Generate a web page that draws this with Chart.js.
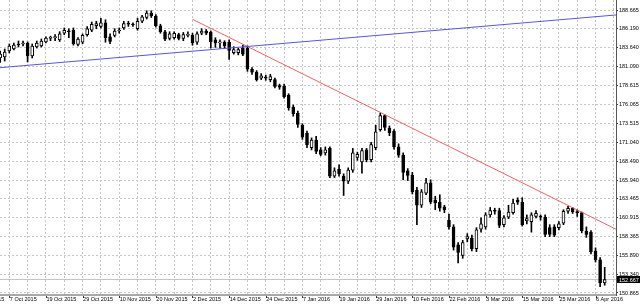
<!DOCTYPE html>
<html>
<head>
<meta charset="utf-8">
<script src="https://cdn.jsdelivr.net/npm/chart.js@4.4.0/dist/chart.umd.min.js"></script>
<style>
html, body { margin: 0; padding: 0; background: #fff; }
canvas { display: block; }
</style>
</head>
<body>
<canvas id="velas" width="640" height="305"></canvas>
<script>
// dias de cotizacion (una vela por dia)
var dias = [
'5 Oct 2015','6 Oct 2015','7 Oct 2015','8 Oct 2015','9 Oct 2015','12 Oct 2015','13 Oct 2015','14 Oct 2015','15 Oct 2015','16 Oct 2015',
'19 Oct 2015','20 Oct 2015','21 Oct 2015','22 Oct 2015','23 Oct 2015','26 Oct 2015','27 Oct 2015','28 Oct 2015','29 Oct 2015','30 Oct 2015',
'2 Nov 2015','3 Nov 2015','4 Nov 2015','5 Nov 2015','6 Nov 2015','9 Nov 2015','10 Nov 2015','11 Nov 2015','12 Nov 2015','13 Nov 2015',
'16 Nov 2015','17 Nov 2015','18 Nov 2015','19 Nov 2015','20 Nov 2015','23 Nov 2015','24 Nov 2015','25 Nov 2015','26 Nov 2015','27 Nov 2015',
'30 Nov 2015','1 Dec 2015','2 Dec 2015','3 Dec 2015','4 Dec 2015','7 Dec 2015','8 Dec 2015','9 Dec 2015','10 Dec 2015','11 Dec 2015',
'14 Dec 2015','15 Dec 2015','16 Dec 2015','17 Dec 2015','18 Dec 2015','21 Dec 2015','22 Dec 2015','23 Dec 2015','24 Dec 2015','28 Dec 2015',
'29 Dec 2015','30 Dec 2015','31 Dec 2015','4 Jan 2016','5 Jan 2016','6 Jan 2016','7 Jan 2016','8 Jan 2016','11 Jan 2016','12 Jan 2016',
'13 Jan 2016','14 Jan 2016','15 Jan 2016','18 Jan 2016','19 Jan 2016','20 Jan 2016','21 Jan 2016','22 Jan 2016','25 Jan 2016','26 Jan 2016',
'27 Jan 2016','28 Jan 2016','29 Jan 2016','1 Feb 2016','2 Feb 2016','3 Feb 2016','4 Feb 2016','5 Feb 2016','8 Feb 2016','9 Feb 2016',
'10 Feb 2016','11 Feb 2016','12 Feb 2016','15 Feb 2016','16 Feb 2016','17 Feb 2016','18 Feb 2016','19 Feb 2016','22 Feb 2016','23 Feb 2016',
'24 Feb 2016','25 Feb 2016','26 Feb 2016','29 Feb 2016','1 Mar 2016','2 Mar 2016','3 Mar 2016','4 Mar 2016','7 Mar 2016','8 Mar 2016',
'9 Mar 2016','10 Mar 2016','11 Mar 2016','14 Mar 2016','15 Mar 2016','16 Mar 2016','17 Mar 2016','18 Mar 2016','21 Mar 2016','22 Mar 2016',
'23 Mar 2016','24 Mar 2016','25 Mar 2016','28 Mar 2016','29 Mar 2016','30 Mar 2016','31 Mar 2016','1 Apr 2016','4 Apr 2016','5 Apr 2016',
'6 Apr 2016','7 Apr 2016','8 Apr 2016'
];

var apertura = [
182.30,182.42,183.22,183.49,184.16,184.16,184.29,182.55,183.76,183.89,
184.43,184.90,185.00,184.70,185.60,185.90,186.00,184.10,184.40,185.40,
186.00,186.60,186.50,187.00,185.10,185.30,185.90,186.30,186.90,186.80,
186.20,187.20,187.70,188.30,187.90,186.60,185.80,184.90,185.00,185.40,
184.90,185.30,185.30,184.40,185.60,185.90,185.76,184.70,184.30,184.40,
184.40,183.00,183.00,183.60,183.60,180.80,180.40,179.60,179.70,179.40,
179.40,178.60,178.50,177.30,175.70,174.90,173.30,172.20,170.30,171.30,
170.00,169.60,170.20,166.50,167.40,166.50,165.80,167.30,169.00,168.40,
170.00,168.70,170.30,172.70,174.60,172.90,172.50,170.40,169.30,167.20,
166.60,164.60,162.60,164.20,165.60,163.30,163.00,162.40,160.60,159.70,
157.30,155.90,158.10,158.20,156.80,159.40,159.70,161.30,161.90,161.90,
160.00,161.00,161.60,163.30,163.00,160.50,160.40,161.10,161.10,161.00,
159.60,159.70,159.60,160.20,161.80,162.20,161.70,161.60,159.10,159.00,
156.50,155.30,152.20
];
var maximo = [
183.20,183.49,184.16,184.29,184.56,184.56,184.43,184.16,184.56,184.83,
185.10,185.20,185.40,185.80,186.30,186.20,186.30,185.00,185.50,186.50,
187.10,187.20,187.60,187.40,185.50,186.20,186.30,187.20,187.20,187.00,
187.60,188.00,188.60,188.60,188.10,186.80,186.00,185.80,185.80,185.60,
185.70,185.80,185.60,185.80,186.20,186.10,185.90,185.00,184.70,184.60,
184.70,183.80,183.60,184.00,183.90,181.00,180.60,180.20,180.00,180.10,
179.60,178.80,178.80,177.50,176.00,175.20,173.50,172.50,171.60,171.80,
170.30,170.40,170.40,167.60,168.00,166.80,167.60,170.20,169.70,170.20,
170.20,171.00,173.30,174.90,174.70,173.20,172.70,170.80,169.60,167.50,
167.00,165.00,164.70,166.20,166.00,163.80,164.00,162.60,161.40,160.00,
157.60,157.90,158.80,158.60,159.60,160.90,161.60,162.30,162.20,162.20,
161.20,162.60,163.40,163.60,163.60,161.30,161.60,161.90,161.30,161.30,
160.00,160.00,160.40,162.00,162.50,162.30,162.00,161.70,159.70,159.20,
156.90,155.60,154.30
];
var minimo = [
181.70,181.88,182.96,183.36,183.76,183.89,181.75,182.29,183.62,183.76,
184.30,184.60,184.60,184.50,185.40,185.00,184.00,183.90,184.20,185.20,
185.80,186.20,186.30,184.40,184.20,185.10,185.60,186.10,186.50,186.50,
186.00,187.00,187.50,187.70,186.40,185.60,184.60,184.70,184.80,184.70,
184.60,185.10,184.00,184.10,185.40,185.40,183.62,183.70,183.60,183.60,
182.10,182.80,182.70,182.60,180.50,180.10,179.20,179.40,179.30,179.10,
178.30,178.10,176.90,175.30,174.50,173.00,171.40,170.30,170.00,169.50,
169.20,169.30,166.30,166.30,166.50,163.90,165.50,167.00,168.60,166.90,
168.40,168.40,170.00,172.50,172.60,171.90,170.10,169.00,166.00,165.90,
164.10,160.00,162.30,164.00,162.80,162.00,161.80,161.60,159.40,156.60,
154.90,155.50,157.70,156.50,156.40,159.00,159.40,161.00,161.40,159.60,
159.70,160.80,161.40,162.70,159.80,160.10,159.00,160.90,160.60,158.40,
158.40,158.40,159.30,160.00,161.50,161.50,161.10,158.90,158.30,156.10,
155.00,151.70,151.90
];
var cierre = [
182.80,183.09,183.89,184.02,184.02,184.29,182.55,183.89,184.29,184.56,
184.96,185.00,185.10,185.50,186.00,185.80,184.20,184.80,185.30,186.20,
186.80,186.90,187.00,185.00,184.50,185.90,186.00,186.90,186.80,186.70,
187.20,187.80,188.30,187.90,186.60,185.80,184.80,185.50,185.60,184.90,
185.40,185.40,184.30,185.50,185.90,185.60,184.43,184.30,184.40,183.90,
183.30,183.40,183.40,182.80,180.80,180.40,179.40,179.90,179.60,179.80,
178.50,178.40,177.10,175.60,174.80,173.40,171.70,170.70,171.30,169.80,
169.40,170.00,166.50,167.20,166.80,165.80,167.30,169.60,169.40,169.90,
168.70,170.70,172.40,174.60,173.00,172.30,170.40,169.30,167.00,166.60,
164.40,162.60,164.40,165.60,163.00,162.90,162.20,162.00,159.70,157.00,
156.30,157.60,158.40,156.80,159.30,160.10,161.30,161.90,161.80,159.90,
160.90,161.70,162.90,163.00,160.00,160.80,161.30,161.50,161.00,158.70,
158.70,158.60,160.10,161.80,162.20,161.70,161.60,159.20,158.70,156.40,
155.30,152.20,152.667
];

// etiquetas del eje de precios
var ticksPrecio = [188.665,186.190,183.640,181.090,178.615,176.065,173.515,171.040,168.490,165.940,163.465,160.915,158.365,155.890,153.340,150.865];
// etiquetas de fecha, cada 8 velas, la primera cae en la vela -6
var etiquetasFecha = ['25 Sep 2015','7 Oct 2015','19 Oct 2015','29 Oct 2015','10 Nov 2015','20 Nov 2015','2 Dec 2015','14 Dec 2015','24 Dec 2015','7 Jan 2016','19 Jan 2016','29 Jan 2016','10 Feb 2016','22 Feb 2016','3 Mar 2016','15 Mar 2016','25 Mar 2016','6 Apr 2016'];
var primeraEtiqueta = -6;

// lineas de tendencia
var lineaAzul = [{x: -0.03, y: 180.99}, {x: 134.47, y: 188.04}];
var lineaRoja = [{x: 42, y: 187.46}, {x: 134.47, y: 159.39}];

var xMin = -0.03, xMax = 134.47;
var yMin = 150.73, yMax = 190.04;

var ultimo = cierre[cierre.length - 1];

var mechas = [], sube = [], baja = [];
for (var k = 0; k < dias.length; k++) {
    mechas.push({x: k, y: [minimo[k], maximo[k]]});
    if (cierre[k] >= apertura[k]) {
        sube.push({x: k, y: [apertura[k], cierre[k]]});
    } else {
        baja.push({x: k, y: [apertura[k], cierre[k]]});
    }
}

var fuente = {size: 5.5, family: '"Liberation Sans", Arial, sans-serif'};

var marco = {
    id: 'marco',
    afterDraw: function(chart) {
        var c = chart.ctx;
        var area = chart.chartArea;
        var ex = chart.scales.x;
        var ey = chart.scales.y;
        c.save();
        c.fillStyle = '#a8a8a8';
        c.fillRect(0, area.bottom, area.right, 2);
        c.fillStyle = '#555';
        c.fillRect(area.right, 0, 1, area.bottom + 2);
        c.font = fuente.size + 'px ' + fuente.family;
        c.textAlign = 'left';
        c.textBaseline = 'top';
        for (var n = 0; n < etiquetasFecha.length; n++) {
            var px = ex.getPixelForValue(primeraEtiqueta + n * 8);
            c.fillStyle = '#333';
            c.fillRect(Math.round(px), area.bottom + 2, 1, 2);
            c.fillStyle = '#000';
            c.fillText(etiquetasFecha[n], px + 0.5, area.bottom + 3);
        }
        var py = ey.getPixelForValue(ultimo);
        c.fillStyle = '#000';
        c.fillRect(area.right + 1, py - 3.5, 24, 7);
        c.fillStyle = '#fff';
        c.textBaseline = 'middle';
        c.fillText(ultimo.toFixed(3), area.right + 3, py + 0.5);
        c.restore();
    }
};

var ctx = document.getElementById('velas').getContext('2d');
var grafica = new Chart(ctx, {
    type: 'bar',
    data: {
        datasets: [
            {
                type: 'line',
                data: [{x: xMin, y: ultimo}, {x: xMax, y: ultimo}],
                borderColor: '#c4c4c4',
                borderWidth: 1,
                pointRadius: 0,
                order: 4
            },
            {
                data: mechas,
                backgroundColor: '#000',
                borderWidth: 0,
                barThickness: 1,
                grouped: false,
                order: 3
            },
            {
                data: sube,
                backgroundColor: '#fff',
                borderColor: '#000',
                borderWidth: 1,
                borderSkipped: false,
                barThickness: 3,
                minBarLength: 1,
                grouped: false,
                order: 2
            },
            {
                data: baja,
                backgroundColor: '#000',
                borderColor: '#000',
                borderWidth: 1,
                borderSkipped: false,
                barThickness: 3,
                minBarLength: 1,
                grouped: false,
                order: 2
            },
            {
                type: 'line',
                data: lineaAzul,
                borderColor: '#5656dc',
                borderWidth: 1,
                pointRadius: 0,
                order: 1
            },
            {
                type: 'line',
                data: lineaRoja,
                borderColor: '#f06262',
                borderWidth: 1,
                pointRadius: 0,
                order: 1
            }
        ]
    },
    options: {
        responsive: false,
        animation: false,
        devicePixelRatio: 1,
        layout: {padding: 0},
        plugins: {
            legend: {display: false},
            tooltip: {enabled: false}
        },
        scales: {
            x: {
                type: 'linear',
                min: xMin,
                max: xMax,
                offset: false,
                afterBuildTicks: function(eje) {
                    var t = [];
                    for (var v = 2; v <= 134; v += 4) t.push({value: v});
                    eje.ticks = t;
                },
                afterFit: function(eje) {
                    eje.height = 11;
                    eje.paddingLeft = 0;
                    eje.paddingRight = 0;
                },
                ticks: {display: false},
                grid: {color: '#c6c6c6', offset: false, drawTicks: false},
                border: {display: false, dash: [2, 2]}
            },
            y: {
                type: 'linear',
                position: 'right',
                min: yMin,
                max: yMax,
                beginAtZero: false,
                afterBuildTicks: function(eje) {
                    eje.ticks = ticksPrecio.map(function(v) { return {value: v}; });
                },
                afterFit: function(eje) {
                    eje.width = 24;
                    eje.paddingTop = 0;
                    eje.paddingBottom = 0;
                },
                ticks: {
                    font: fuente,
                    color: '#000',
                    padding: 1,
                    callback: function(v) { return v.toFixed(3); }
                },
                grid: {color: '#c6c6c6', tickColor: '#333', tickLength: 2},
                border: {display: false, dash: [2, 2]}
            }
        }
    },
    plugins: [marco]
});
</script>
</body>
</html>
